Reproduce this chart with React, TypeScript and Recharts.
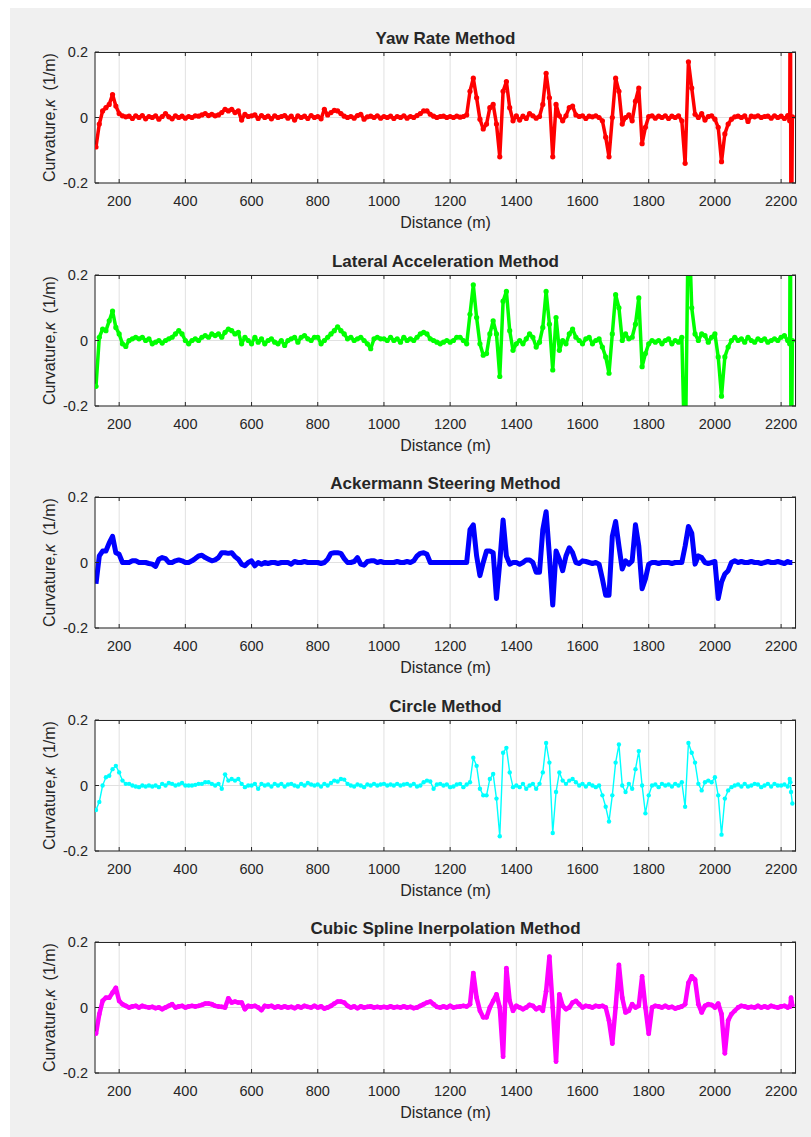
import React from "react";
import { LineChart, Line, XAxis, YAxis, CartesianGrid } from "recharts";

const FONT = '"Liberation Sans", Arial, Helvetica, sans-serif';
const INK = "#262626";

// distance along the route (m)
const distance = [
  130, 140, 150, 160, 170, 180, 190,
  200, 210, 220, 230, 240, 250, 260, 270, 280, 290,
  300, 310, 320, 330, 340, 350, 360, 370, 380, 390,
  400, 410, 420, 430, 440, 450, 460, 470, 480, 490,
  500, 510, 520, 530, 540, 550, 560, 570, 580, 590,
  600, 610, 620, 630, 640, 650, 660, 670, 680, 690,
  700, 710, 720, 730, 740, 750, 760, 770, 780, 790,
  800, 810, 820, 830, 840, 850, 860, 870, 880, 890,
  900, 910, 920, 930, 940, 950, 960, 970, 980, 990,
  1000, 1010, 1020, 1030, 1040, 1050, 1060, 1070, 1080, 1090,
  1100, 1110, 1120, 1130, 1140, 1150, 1160, 1170, 1180, 1190,
  1200, 1210, 1220, 1230, 1240, 1250, 1260, 1270, 1280, 1290,
  1300, 1310, 1320, 1330, 1340, 1350, 1360, 1370, 1380, 1390,
  1400, 1410, 1420, 1430, 1440, 1450, 1460, 1470, 1480, 1490,
  1500, 1510, 1520, 1530, 1540, 1550, 1560, 1570, 1580, 1590,
  1600, 1610, 1620, 1630, 1640, 1650, 1660, 1670, 1680, 1690,
  1700, 1710, 1720, 1730, 1740, 1750, 1760, 1770, 1780, 1790,
  1800, 1810, 1820, 1830, 1840, 1850, 1860, 1870, 1880, 1890,
  1900, 1910, 1920, 1930, 1940, 1950, 1960, 1970, 1980, 1990,
  2000, 2010, 2020, 2030, 2040, 2050, 2060, 2070, 2080, 2090,
  2100, 2110, 2120, 2130, 2140, 2150, 2160, 2170, 2180, 2190,
  2200, 2210, 2220, 2226, 2228, 2230, 2234,
];

const yawRate = [
  -0.09, -0.02, 0.02, 0.03, 0.04, 0.07, 0.035,
  0.012, 0.005, 0.002, 0.004, -0.003, 0.005, 0.0, 0.006, -0.004, 0.003,
  0.0, 0.005, -0.005, 0.003, 0.012, 0.002, -0.004, 0.005, 0.0, 0.004,
  -0.002, 0.003, 0.0, 0.005, 0.004, 0.008, 0.012, 0.006, 0.01, 0.005,
  0.008, 0.015, 0.025, 0.02, 0.025, 0.015, 0.02, -0.008, 0.01, 0.003,
  0.005, 0.008, -0.003, 0.006, 0.0, 0.004, -0.004, 0.005, 0.0, 0.003,
  0.006, -0.002, 0.004, -0.008, 0.005, 0.0, 0.004, -0.003, 0.006, 0.0,
  0.003, -0.004, 0.025, 0.008, 0.015, 0.022, 0.02, 0.012, 0.004, 0.0,
  0.003, -0.002, 0.006, 0.01, -0.005, 0.002, 0.004, 0.0, 0.005, -0.002,
  0.003, 0.0, 0.004, -0.003, 0.003, 0.0, 0.005, -0.002, 0.003, 0.0,
  0.006, 0.012, 0.02, 0.02, 0.01, 0.004, 0.0, 0.003, 0.004, 0.0,
  0.003, 0.0, 0.004, 0.001, 0.003, 0.008, 0.08, 0.12, 0.06, -0.005,
  -0.035, -0.02, 0.03, 0.04, -0.02, -0.12, 0.08, 0.11, 0.03, -0.01,
  0.005, -0.008, 0.004, -0.003, 0.012, 0.005, -0.002, 0.003, 0.04, 0.135,
  0.06, -0.12, 0.04, 0.005, -0.01, 0.005, 0.03, 0.035, 0.008, 0.003,
  0.005, -0.003, 0.004, 0.002, 0.005, 0.0, -0.01, -0.06, -0.12, 0.0,
  0.12, 0.08, -0.02, 0.0, 0.008, -0.01, 0.05, 0.09, -0.08, -0.03,
  0.003, 0.005, -0.002, 0.004, 0.0, 0.005, -0.003, 0.004, 0.0, 0.005,
  -0.01, -0.14, 0.17, 0.09, 0.01, 0.0, 0.012, -0.008, 0.003, 0.005,
  -0.005, -0.03, -0.135, -0.05, -0.02, -0.005, 0.002, 0.004, 0.0, 0.005,
  -0.012, 0.004, 0.002, 0.005, 0.0, 0.003, 0.004, -0.002, 0.005, 0.0,
  0.004, -0.003, 0.006, -0.01, 0.6, -0.6, 0.002,
];

const lateralAcc = [
  -0.14, 0.01, 0.035, 0.03, 0.06, 0.09, 0.04,
  0.02, -0.01, -0.018, 0.0, 0.005, 0.01, 0.005, 0.01, 0.0, 0.005,
  -0.01, -0.005, 0.0, -0.008, 0.0, 0.005, 0.01, 0.02, 0.03, 0.02,
  0.0, -0.01, 0.0, 0.005, 0.0, 0.01, 0.015, 0.01, 0.02, 0.015,
  0.02, 0.01, 0.025, 0.035, 0.03, 0.02, 0.025, -0.01, 0.01, 0.0,
  -0.01, 0.01, -0.005, 0.005, -0.01, 0.0, 0.005, -0.005, -0.01, 0.0,
  -0.015, 0.0, 0.005, 0.01, -0.005, 0.01, 0.015, 0.005, 0.0, 0.01,
  0.01, -0.01, 0.0, 0.01, 0.02, 0.03, 0.042, 0.03, 0.02, 0.005,
  0.01, 0.0, 0.005, 0.01, 0.0, -0.01, -0.025, 0.005, 0.01, 0.005,
  0.005, 0.0, 0.01, 0.0, 0.005, -0.005, 0.01, 0.0, 0.005, 0.0,
  0.01, 0.02, 0.025, 0.02, 0.005, 0.0, -0.005, -0.01, -0.005, 0.0,
  -0.005, 0.0, 0.01, 0.01, 0.0, -0.01, 0.08, 0.17, 0.07, -0.01,
  -0.045, -0.04, 0.02, 0.06, 0.02, -0.11, 0.12, 0.15, 0.03, -0.03,
  -0.01, 0.0, -0.01, 0.005, 0.02, 0.01, -0.02, -0.005, 0.04, 0.15,
  0.05, -0.09, 0.07, -0.03, 0.0, -0.01, 0.02, 0.035, 0.01, 0.0,
  -0.01, 0.005, 0.01, -0.01, 0.0, 0.005, -0.02, -0.05, -0.1, 0.02,
  0.14, 0.1, 0.0, 0.02, 0.005, 0.01, 0.05, 0.13, -0.08, -0.04,
  -0.01, 0.0, -0.005, 0.0, -0.01, 0.0, 0.005, -0.01, 0.0, -0.005,
  0.01, -0.4, 0.4, 0.1, 0.02, 0.0, 0.02, 0.015, -0.005, 0.01,
  0.02, -0.05, -0.17, -0.05, -0.02, 0.0, 0.01, 0.0, 0.005, -0.005,
  0.01, 0.0, -0.005, 0.005, 0.0, 0.005, -0.005, 0.0, 0.005, 0.0,
  0.01, 0.015, 0.0, -0.01, 0.6, -0.6, 0.0,
];

const ackermann = [
  -0.065, 0.02, 0.035, 0.035, 0.06, 0.08, 0.03,
  0.025, 0.0, 0.0, 0.0, 0.005, 0.005, 0.0, 0.0, 0.0, -0.003,
  -0.005, -0.012, 0.01, 0.015, 0.012, 0.0, 0.0, 0.005, 0.008, 0.005,
  0.0, 0.0, 0.005, 0.012, 0.02, 0.022, 0.015, 0.01, 0.005, 0.008,
  0.015, 0.03, 0.03, 0.028, 0.03, 0.018, 0.01, -0.005, -0.01, 0.0,
  0.005, -0.01, 0.0, -0.005, 0.0, -0.003, 0.0, 0.0, -0.003, 0.0,
  0.0, 0.0, -0.005, 0.003, 0.0, 0.0, 0.003, 0.0, 0.0, 0.0,
  0.0, -0.003, 0.0, 0.01, 0.028, 0.03, 0.03, 0.028, 0.012, 0.0,
  0.0, 0.003, 0.015, -0.005, -0.008, 0.003, 0.005, 0.005, 0.0, 0.003,
  0.0, 0.0, 0.0, 0.0, 0.003, 0.0, 0.0, 0.003, 0.0, 0.005,
  0.02, 0.028, 0.03, 0.025, 0.0, 0.0, 0.0, 0.0, 0.0, 0.0,
  0.0, 0.0, 0.0, 0.0, 0.0, 0.0, 0.1, 0.115, 0.02, -0.04,
  0.0, 0.035, 0.035, 0.03, -0.11, 0.0, 0.13, 0.02, -0.005, 0.0,
  0.0, -0.005, 0.0, 0.008, 0.008, 0.0, -0.03, -0.03, 0.1, 0.155,
  0.02, -0.13, 0.035, 0.01, -0.025, 0.02, 0.045, 0.03, 0.0, -0.003,
  0.005, 0.003, 0.0, -0.003, 0.0, -0.005, -0.05, -0.1, -0.1, 0.08,
  0.125, 0.05, -0.02, 0.005, -0.005, 0.005, 0.115, 0.05, -0.08, -0.05,
  -0.005, 0.0, 0.0, -0.003, 0.0, 0.0, 0.0, -0.003, 0.0, 0.0,
  0.0, 0.05, 0.11, 0.09, -0.005, 0.02, 0.015, 0.0, -0.003, 0.0,
  0.003, -0.11, -0.06, -0.035, -0.025, 0.0, 0.005, 0.0, 0.003, 0.0,
  0.0, 0.003, 0.0, 0.0, -0.003, 0.0, 0.003, 0.0, 0.0, 0.003,
  0.0, -0.003, 0.003, 0.0, 0.0, 0.0, 0.0,
];

const circle = [
  -0.075, -0.05, 0.0, 0.025, 0.03, 0.05, 0.06,
  0.04, 0.015, 0.005, 0.005, 0.0, -0.003, -0.005, 0.0, -0.003, 0.0,
  -0.003, 0.0, -0.005, 0.005, 0.0, 0.008, 0.005, 0.0, 0.003, 0.008,
  0.0, 0.0, 0.0, 0.002, 0.005, 0.005, 0.01, 0.01, 0.005, 0.0,
  0.005, -0.01, 0.034, 0.015, 0.02, 0.015, 0.02, 0.005, -0.005, 0.0,
  0.0, 0.005, -0.01, 0.005, 0.0, 0.003, -0.003, 0.005, 0.0, 0.005,
  -0.003, 0.003, 0.005, 0.0, -0.003, 0.005, 0.0, 0.008, 0.003, 0.0,
  0.003, -0.003, 0.005, 0.0, 0.008, 0.015, 0.012, 0.02, 0.018, 0.005,
  0.0, -0.003, 0.003, 0.0, -0.005, 0.003, 0.0, 0.005, 0.0, 0.003,
  0.005, 0.0, 0.003, 0.0, 0.005, 0.0, 0.003, 0.005, 0.0, 0.005,
  -0.003, 0.0, 0.01, 0.015, 0.012, -0.01, 0.003, 0.005, 0.0, 0.003,
  -0.005, -0.003, 0.003, 0.005, -0.005, 0.003, 0.01, 0.085, 0.06, -0.01,
  -0.03, -0.03, 0.02, 0.035, -0.04, -0.155, 0.1, 0.115, 0.04, -0.005,
  0.0, -0.005, 0.005, -0.01, 0.0, 0.005, -0.01, 0.005, 0.04, 0.13,
  0.07, -0.145, -0.02, 0.04, 0.015, 0.005, 0.015, 0.02, 0.01, 0.0,
  0.005, -0.003, 0.005, 0.0, -0.005, 0.0, -0.03, -0.065, -0.11, -0.03,
  0.07, 0.125, 0.0, -0.02, 0.005, -0.01, 0.05, 0.105, 0.0, -0.085,
  -0.03, 0.0, 0.003, -0.005, 0.005, 0.0, 0.003, -0.003, 0.005, 0.0,
  0.01, -0.065, 0.13, 0.1, 0.07, 0.005, -0.015, 0.01, 0.015, 0.01,
  0.025, -0.03, -0.15, -0.04, -0.015, -0.005, 0.0, 0.003, -0.003, 0.005,
  -0.003, 0.0, 0.005, 0.003, -0.005, 0.0, 0.005, -0.003, 0.005, 0.0,
  0.0, 0.003, -0.003, 0.02, 0.01, -0.02, -0.055,
];

const cubicSpline = [
  -0.08, -0.02, 0.02, 0.03, 0.03, 0.045, 0.06,
  0.02, 0.01, 0.005, 0.0, 0.003, 0.005, 0.0, 0.005, 0.002, 0.0,
  0.002, -0.002, 0.0, -0.005, 0.0, 0.005, 0.01, 0.0, 0.003, 0.005,
  0.0, 0.003, 0.005, 0.003, 0.005, 0.008, 0.012, 0.012, 0.01, 0.005,
  0.003, 0.002, 0.0, 0.028, 0.015, 0.018, 0.015, 0.015, -0.005, 0.005,
  0.003, 0.005, 0.0, -0.008, 0.005, 0.003, 0.005, 0.0, 0.003, 0.0,
  0.003, 0.0, 0.002, -0.002, 0.003, 0.0, 0.005, 0.002, 0.0, 0.005,
  0.0, 0.003, -0.003, 0.0, 0.005, 0.012, 0.018, 0.018, 0.015, 0.005,
  0.0, 0.003, -0.002, 0.003, 0.0, 0.002, 0.003, 0.0, 0.002, 0.0,
  0.002, 0.0, 0.003, 0.0, 0.002, 0.0, 0.003, 0.0, 0.002, -0.002,
  0.0, 0.005, 0.01, 0.015, 0.018, 0.01, 0.002, 0.0, 0.003, 0.0,
  0.005, 0.0, 0.002, 0.003, 0.005, 0.003, 0.01, 0.105, 0.03, -0.01,
  -0.03, -0.03, 0.0, 0.02, 0.04, 0.0, -0.15, 0.12, 0.02, -0.01,
  0.005, 0.0, -0.005, 0.0, 0.008, 0.005, -0.005, 0.0, -0.01, 0.05,
  0.155, 0.0, -0.165, 0.04, 0.005, -0.005, 0.0, 0.015, 0.02, 0.01,
  0.0, 0.005, 0.003, 0.0, 0.005, 0.003, 0.005, 0.0, -0.04, -0.11,
  0.0, 0.13, 0.03, -0.015, -0.01, 0.01, 0.0, 0.005, 0.095, 0.0,
  -0.08, 0.0, 0.005, 0.003, 0.0, 0.005, 0.0, 0.002, -0.003, 0.0,
  0.003, 0.01, 0.075, 0.095, 0.085, 0.01, -0.015, 0.005, 0.01, 0.008,
  0.0, 0.012, -0.02, -0.14, -0.04, -0.02, -0.01, 0.0, 0.005, 0.003,
  0.0, 0.002, 0.0, 0.005, 0.0, 0.003, 0.0, 0.005, 0.002, 0.0,
  0.003, 0.005, 0.0, 0.005, 0.003, 0.03, 0.005,
];

const xTicks = [200, 400, 600, 800, 1000, 1200, 1400, 1600, 1800, 2000, 2200];
const yTicks = [-0.2, 0, 0.2];
const X_DOMAIN: [number, number] = [127, 2245];
const Y_DOMAIN: [number, number] = [-0.2, 0.2];

// plot box inside each panel (px)
const PLOT = { left: 95, top: 52, width: 701, height: 131 };
const TICK_LEN = 4;

const panels = [
  { title: "Yaw Rate Method", values: yawRate, color: "#ff0000", width: 3.5, dot: 2.6 },
  { title: "Lateral Acceleration Method", values: lateralAcc, color: "#00ff00", width: 3.5, dot: 2.6 },
  { title: "Ackermann Steering Method", values: ackermann, color: "#0000ff", width: 5, dot: 0 },
  { title: "Circle Method", values: circle, color: "#00ffff", width: 1.4, dot: 2.2 },
  { title: "Cubic Spline Inerpolation Method", values: cubicSpline, color: "#ff00ff", width: 4.5, dot: 2.4 },
];

// bottom tick label, plus the matching inward tick on the top edge
const XTick = (p: any) => (
  <g>
    <line x1={p.x} x2={p.x} y1={PLOT.top} y2={PLOT.top + TICK_LEN} stroke={INK} />
    <text x={p.x} y={p.y} dy="0.71em" textAnchor="middle" fill={INK} fontSize={14.5} fontFamily={FONT}>
      {p.payload.value}
    </text>
  </g>
);

// left tick label, plus the matching inward tick on the right edge
const YTick = (p: any) => {
  const right = PLOT.left + PLOT.width;
  const v = p.payload.value;
  return (
    <g>
      <line x1={right} x2={right - TICK_LEN} y1={p.y} y2={p.y} stroke={INK} />
      <text x={p.x} y={p.y} dy="0.355em" textAnchor="end" fill={INK} fontSize={14.5} fontFamily={FONT}>
        {v === 0 ? "0" : String(v)}
      </text>
    </g>
  );
};

function Panel({ title, values, color, width, dot, top }: any) {
  const data = distance.map((d, i) => ({ d, k: values[i] }));

  const xLabel = (p: any) => {
    const vb = p.viewBox;
    return (
      <text x={vb.x + vb.width / 2} y={vb.y + 39} dy="0.35em" textAnchor="middle"
        fill={INK} fontSize={16} fontFamily={FONT}>
        Distance (m)
      </text>
    );
  };
  const yLabel = (p: any) => {
    const vb = p.viewBox;
    const cx = 49;
    const cy = vb.y + vb.height / 2;
    return (
      <text x={cx} y={cy} dy="0.35em" textAnchor="middle" transform={`rotate(-90, ${cx}, ${cy})`}
        fill={INK} fontSize={16} fontFamily={FONT}>
        Curvature,<tspan fontStyle="italic">κ</tspan>{" \u00a0(1/m)"}
      </text>
    );
  };

  return (
    <div style={{ position: "absolute", left: 0, top, width: 811, height: 240 }}>
      <div style={{
        position: "absolute", left: PLOT.left, top: 29, width: PLOT.width, textAlign: "center",
        fontFamily: FONT, fontWeight: "bold", fontSize: 17, lineHeight: "20px", color: INK,
      }}>
        {title}
      </div>
      <div style={{ position: "absolute", left: 0, top: 0 }}>
        <LineChart width={811} height={240} data={data}
          margin={{ top: PLOT.top, right: 811 - PLOT.left - PLOT.width, bottom: 0, left: 0 }}>
          <CartesianGrid stroke="#e1e1e1" fill="#ffffff" />
          <XAxis dataKey="d" type="number" domain={X_DOMAIN} allowDataOverflow ticks={xTicks}
            height={57} tickSize={-TICK_LEN} tickMargin={16.5} tick={<XTick />}
            axisLine={{ stroke: INK }} tickLine={{ stroke: INK }}
            label={{ content: xLabel }} />
          <YAxis type="number" domain={Y_DOMAIN} allowDataOverflow ticks={yTicks} width={PLOT.left}
            tickSize={-TICK_LEN} tickMargin={11} tick={<YTick />}
            axisLine={{ stroke: INK }} tickLine={{ stroke: INK }}
            label={{ content: yLabel }} />
          <Line type="linear" dataKey="k" stroke={color} strokeWidth={width} strokeLinejoin="round"
            dot={dot > 0 ? { r: dot, fill: color, stroke: "none" } : false}
            activeDot={false} isAnimationActive={false} />
        </LineChart>
      </div>
      {/* top and right edges of the axes box */}
      <div style={{
        position: "absolute", left: PLOT.left, top: PLOT.top - 0.5, width: PLOT.width,
        height: PLOT.height, borderTop: `1px solid ${INK}`, borderRight: `1px solid ${INK}`,
        boxSizing: "border-box", pointerEvents: "none",
      }} />
    </div>
  );
}

export default function App() {
  return (
    <div style={{ position: "absolute", left: 0, top: 0, width: 811, height: 1137, background: "#ffffff" }}>
      <div style={{ position: "absolute", left: 10, top: 8, width: 801, height: 1129, background: "#f0f0f0" }} />
      {panels.map((p, i) => (
        <Panel key={p.title} {...p} top={Math.round(222.5 * i)} />
      ))}
    </div>
  );
}
